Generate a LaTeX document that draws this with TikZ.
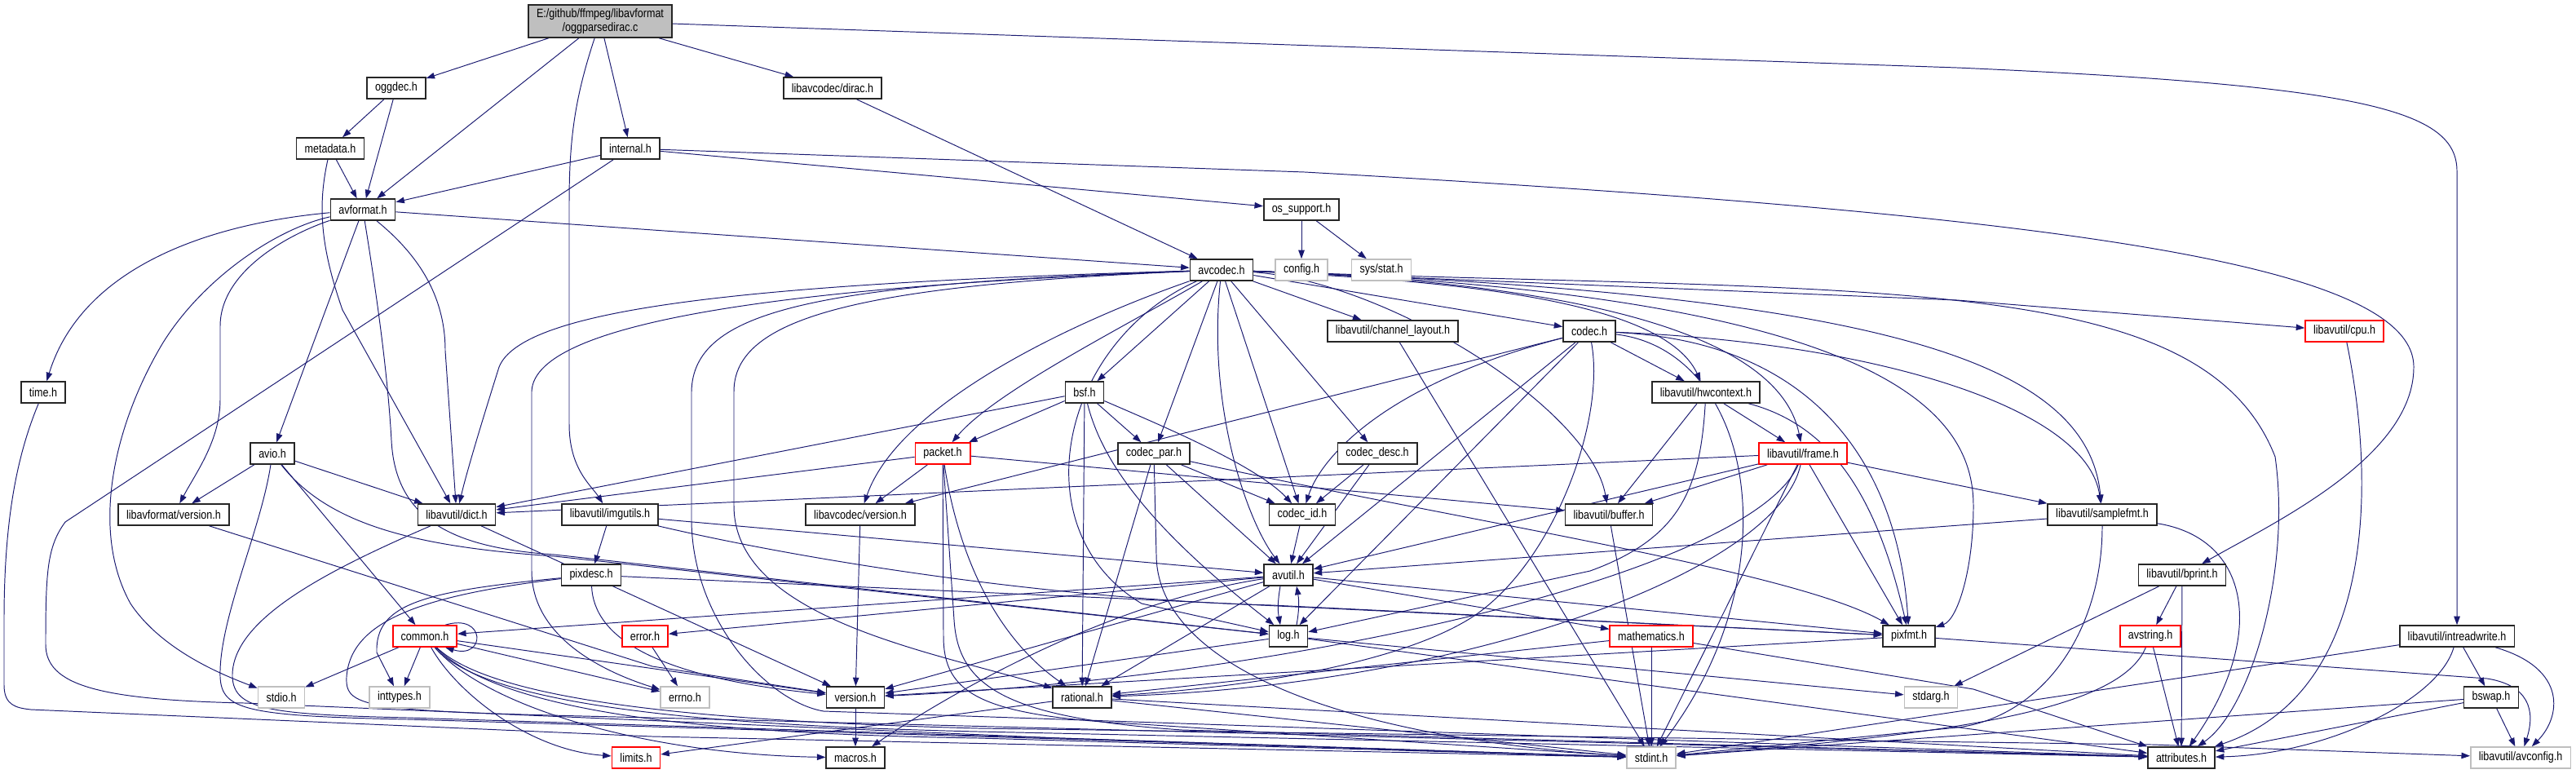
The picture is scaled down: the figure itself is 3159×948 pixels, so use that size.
\documentclass[tikz,border=0pt]{standalone}
\usepackage{fontspec}
\usepackage{tikz}
\usetikzlibrary{arrows.meta,backgrounds}
\newfontfamily\dxfont{Liberation Sans}[FakeStretch=0.84]
\definecolor{edgeblue}{HTML}{191970}
\definecolor{boxgray}{HTML}{BFBFBF}

\begin{document}
\begin{tikzpicture}[x=0.02cm, y=-0.02cm,
  hdr/.style={draw=black!85, line width=0.9pt, fill=white,
              inner xsep=0.2cm, inner ysep=0pt, minimum height=0.52cm,
              font=\dxfont\fontsize{8.5}{10}\selectfont},
  redhdr/.style={hdr, draw=red},
  syshdr/.style={hdr, draw=boxgray},
  srcfile/.style={hdr, fill=boxgray, minimum height=0.8cm, align=center},
  inc/.style={draw=edgeblue, line width=0.55pt,
              -{Triangle[length=0.21cm,width=0.15cm]}},
  ]
  \useasboundingbox (0,0) rectangle (3159,948);

  \node[srcfile] (root) at (736,26) {E:/github/ffmpeg/libavformat\\/oggparsedirac.c};
  \node[hdr] (oggdec) at (486,108) {oggdec.h};
  \node[hdr] (dirac) at (1021,108) {libavcodec/dirac.h};
  \node[hdr] (metadata) at (405,182) {metadata.h};
  \node[hdr] (internal) at (773,182) {internal.h};
  \node[hdr] (avformat) at (445,257) {avformat.h};
  \node[hdr] (ossupp) at (1596,257) {os\_support.h};
  \node[hdr] (avcodec) at (1498,331) {avcodec.h};
  \node[syshdr] (config) at (1596,331) {config.h};
  \node[syshdr] (sysstat) at (1694,331) {sys/stat.h};
  \node[hdr] (chlayout) at (1708,406) {libavutil/channel\_layout.h};
  \node[hdr] (codec) at (1949,406) {codec.h};
  \node[redhdr] (cpu) at (2875,406) {libavutil/cpu.h};
  \node[hdr] (timeh) at (53,481) {time.h};
  \node[hdr] (bsf) at (1330,481) {bsf.h};
  \node[hdr] (hwctx) at (2092,481) {libavutil/hwcontext.h};
  \node[hdr] (avio) at (334,556) {avio.h};
  \node[redhdr] (packet) at (1156,556) {packet.h};
  \node[hdr] (codecpar) at (1415,556) {codec\_par.h};
  \node[hdr] (codecdesc) at (1689,556) {codec\_desc.h};
  \node[redhdr] (frame) at (2211,556) {libavutil/frame.h};
  \node[hdr] (lavfver) at (213,631) {libavformat/version.h};
  \node[hdr] (dict) at (560,631) {libavutil/dict.h};
  \node[hdr] (imgutils) at (748,631) {libavutil/imgutils.h};
  \node[hdr] (lavcver) at (1055,631) {libavcodec/version.h};
  \node[hdr] (codecid) at (1597,631) {codec\_id.h};
  \node[hdr] (buffer) at (1973,631) {libavutil/buffer.h};
  \node[hdr] (samplefmt) at (2578,631) {libavutil/samplefmt.h};
  \node[hdr] (pixdesc) at (725,705) {pixdesc.h};
  \node[hdr] (avutil) at (1580,705) {avutil.h};
  \node[hdr] (bprint) at (2676,705) {libavutil/bprint.h};
  \node[redhdr] (common) at (521,780) {common.h};
  \node[redhdr] (error) at (791,780) {error.h};
  \node[hdr] (logh) at (1580,780) {log.h};
  \node[redhdr] (mathem) at (2025,780) {mathematics.h};
  \node[hdr] (pixfmt) at (2341,780) {pixfmt.h};
  \node[redhdr] (avstring) at (2637,780) {avstring.h};
  \node[hdr] (intrw) at (3013,780) {libavutil/intreadwrite.h};
  \node[syshdr] (stdio) at (345,855) {stdio.h};
  \node[syshdr] (inttypes) at (490,855) {inttypes.h};
  \node[syshdr] (errno) at (840,855) {errno.h};
  \node[hdr] (version) at (1049,855) {version.h};
  \node[hdr] (rational) at (1327,855) {rational.h};
  \node[syshdr] (stdarg) at (2368,855) {stdarg.h};
  \node[hdr] (bswap) at (3055,855) {bswap.h};
  \node[redhdr] (limits) at (780,929) {limits.h};
  \node[hdr] (macros) at (1049,929) {macros.h};
  \node[syshdr] (stdint) at (2025,929) {stdint.h};
  \node[hdr] (attrib) at (2675,929) {attributes.h};
  \node[syshdr] (avconfig) at (3091,929) {libavutil/avconfig.h};

  \begin{scope}[on background layer]
  % source file
  \draw[inc] (root) -- (oggdec);
  \draw[inc] (root) -- (avformat);
  \draw[inc] (root) .. controls (705,120) and (698,170) .. (698,250) -- (698,520) .. controls (698,575) and (725,595) .. (imgutils);
  \draw[inc] (root) -- (internal);
  \draw[inc] (root) -- (dirac);
  \draw[inc] (root) -- (2400,83) .. controls (2900,105) and (3013,135) .. (3013,210) -- (intrw);
  % libavformat
  \draw[inc] (oggdec) -- (metadata);
  \draw[inc] (oggdec) -- (avformat);
  \draw[inc] (metadata) -- (avformat);
  \draw[inc] (metadata) .. controls (390,250) and (392,300) .. (420,380) -- (dict);
  \draw[inc] (internal) -- (avformat);
  \draw[inc] (internal) -- (ossupp);
  \draw[inc] (internal) -- (1600,211) .. controls (2500,262) and (2960,320) .. (2960,450) .. controls (2960,560) and (2790,640) .. (bprint);
  \draw[inc] (internal) -- (80,640) .. controls (58,670) and (56,700) .. (56,790) .. controls (56,840) and (120,858) .. (300,862) -- (1300,905) -- (stdint);
  \draw[inc] (avformat) .. controls (250,275) and (100,330) .. (timeh);
  \draw[inc] (avformat) .. controls (340,280) and (250,340) .. (200,420) .. controls (140,520) and (110,650) .. (160,740) .. controls (200,800) and (280,830) .. (stdio);
  \draw[inc] (avformat) .. controls (360,285) and (270,330) .. (270,400) -- (270,490) .. controls (270,540) and (240,580) .. (lavfver);
  \draw[inc] (avformat) -- (avio);
  \draw[inc] (avformat) .. controls (460,350) and (475,450) .. (480,540) .. controls (485,640) and (560,672) .. (680,680) -- (logh);
  \draw[inc] (avformat) .. controls (510,310) and (546,360) .. (546,430) -- (dict);
  \draw[inc] (avformat) -- (avcodec);
  \draw[inc] (dirac) -- (avcodec);
  \draw[inc] (ossupp) -- (config);
  \draw[inc] (ossupp) -- (sysstat);
  \draw[inc] (timeh) .. controls (20,560) and (5,640) .. (5,760) -- (5,840) .. controls (5,865) and (20,868) .. (38,870) -- (800,903) -- (stdint);
  \draw[inc] (avio) -- (lavfver);
  \draw[inc] (avio) -- (dict);
  \draw[inc] (avio) -- (common);
  \draw[inc] (avio) .. controls (400,640) and (500,670) .. (680,682) -- (logh);
  \draw[inc] (avio) .. controls (320,650) and (268,760) .. (270,830) .. controls (272,870) and (300,878) .. (500,882) -- (1300,906) -- (stdint);
  \draw[inc] (lavfver) -- (800,817) -- (version);
  % libavcodec
  \draw[inc] (avcodec) .. controls (1000,350) and (655,390) .. (652,480) -- (652,700) .. controls (652,790) and (760,830) .. (errno);
  \draw[inc] (avcodec) .. controls (900,348) and (640,380) .. (612,450) .. controls (590,520) and (572,580) .. (dict);
  \draw[inc] (avcodec) .. controls (1000,348) and (850,380) .. (848,480) -- (848,640) .. controls (850,760) and (940,860) .. (1010,872) -- (attrib);
  \draw[inc] (avcodec) .. controls (1050,350) and (900,390) .. (900,480) -- (900,620) .. controls (900,760) and (1150,800) .. (rational);
  \draw[inc] (avcodec) .. controls (1300,400) and (1100,500) .. (lavcver);
  \draw[inc] (avcodec) .. controls (1380,400) and (1220,480) .. (packet);
  \draw[inc] (avcodec) -- (bsf);
  \draw[inc] (avcodec) -- (codecpar);
  \draw[inc] (avcodec) -- (codecid);
  \draw[inc] (avcodec) -- (codecdesc);
  \draw[inc] (avcodec) .. controls (1480,500) and (1530,640) .. (avutil);
  \draw[inc] (avcodec) .. controls (1300,420) and (1250,650) .. (1400,740) -- (logh);
  \draw[inc] (avcodec) -- (chlayout);
  \draw[inc] (avcodec) -- (codec);
  \draw[inc] (avcodec) .. controls (1700,345) and (1950,500) .. (buffer);
  \draw[inc] (avcodec) .. controls (1800,345) and (2040,370) .. (hwctx);
  \draw[inc] (avcodec) .. controls (1900,345) and (2180,400) .. (frame);
  \draw[inc] (avcodec) -- (2400,368) -- (cpu);
  \draw[inc] (avcodec) .. controls (2300,360) and (2560,440) .. (samplefmt);
  \draw[inc] (avcodec) .. controls (2300,360) and (2420,500) .. (2420,620) .. controls (2420,700) and (2400,760) .. (pixfmt);
  \draw[inc] (avcodec) .. controls (2300,360) and (2700,330) .. (2790,560) .. controls (2810,700) and (2760,870) .. (attrib);
  \draw[inc] (bsf) -- (packet);
  \draw[inc] (bsf) -- (codecpar);
  \draw[inc] (bsf) .. controls (1420,520) and (1540,570) .. (codecid);
  \draw[inc] (bsf) -- (dict);
  \draw[inc] (bsf) -- (rational);
  \draw[inc] (bsf) .. controls (1350,560) and (1400,640) .. (logh);
  \draw[inc] (packet) -- (lavcver);
  \draw[inc] (packet) -- (dict);
  \draw[inc] (packet) -- (buffer);
  \draw[inc] (packet) .. controls (1175,680) and (1220,780) .. (rational);
  \draw[inc] (packet) -- (1157,780) .. controls (1157,850) and (1200,878) .. (1400,888) -- (stdint);
  \draw[inc] (packet) -- (1170,760) .. controls (1175,840) and (1230,880) .. (1450,895) -- (attrib);
  \draw[inc] (codecpar) -- (codecid);
  \draw[inc] (codecpar) -- (rational);
  \draw[inc] (codecpar) -- (avutil);
  \draw[inc] (codecpar) .. controls (1800,640) and (2200,700) .. (pixfmt);
  \draw[inc] (codecpar) -- (1418,680) .. controls (1418,800) and (1600,900) .. (stdint);
  \draw[inc] (codec) -- (hwctx);
  \draw[inc] (codec) .. controls (1700,470) and (1620,560) .. (codecid);
  \draw[inc] (codec) -- (lavcver);
  \draw[inc] (codec) -- (avutil);
  \draw[inc] (codec) -- (logh);
  \draw[inc] (codec) .. controls (1970,520) and (1900,700) .. (1800,760) .. controls (1700,820) and (1500,845) .. (rational);
  \draw[inc] (codec) .. controls (2150,430) and (2200,700) .. (stdint);
  \draw[inc] (codec) .. controls (2250,420) and (2330,600) .. (pixfmt);
  \draw[inc] (codec) .. controls (2300,420) and (2560,500) .. (samplefmt);
  \draw[inc] (codecdesc) -- (codecid);
  \draw[inc] (codecdesc) -- (avutil);
  \draw[inc] (codecid) -- (avutil);
  % libavutil
  \draw[inc] (chlayout) -- (stdint);
  \draw[inc] (hwctx) -- (frame);
  \draw[inc] (hwctx) -- (buffer);
  \draw[inc] (hwctx) .. controls (2085,600) and (2060,660) .. (1950,700) -- (logh);
  \draw[inc] (hwctx) .. controls (2240,520) and (2300,600) .. (pixfmt);
  \draw[inc] (frame) -- (buffer);
  \draw[inc] (frame) -- (dict);
  \draw[inc] (frame) -- (samplefmt);
  \draw[inc] (frame) -- (avutil);
  \draw[inc] (frame) -- (stdint);
  \draw[inc] (frame) -- (pixfmt);
  \draw[inc] (frame) .. controls (2180,700) and (1800,840) .. (rational);
  \draw[inc] (frame) .. controls (2150,700) and (1600,830) .. (version);
  \draw[inc] (buffer) -- (stdint);
  \draw[inc] (samplefmt) -- (avutil);
  \draw[inc] (samplefmt) .. controls (2578,780) and (2500,880) .. (2400,892) -- (stdint);
  \draw[inc] (samplefmt) .. controls (2760,660) and (2780,780) .. (attrib);
  \draw[inc] (cpu) .. controls (2915,600) and (2910,850) .. (attrib);
  \draw[inc] (imgutils) -- (pixdesc);
  \draw[inc] (imgutils) -- (avutil);
  \draw[inc] (imgutils) .. controls (1000,690) and (1300,735) .. (1560,742) -- (pixfmt);
  \draw[inc] (pixdesc) -- (1400,735) -- (pixfmt);
  \draw[inc] (pixdesc) .. controls (520,725) and (460,740) .. (462,800) -- (inttypes);
  \draw[inc] (pixdesc) .. controls (520,730) and (430,760) .. (425,830) .. controls (423,870) and (450,872) .. (800,880) -- (attrib);
  \draw[inc] (pixdesc) .. controls (728,780) and (800,830) .. (version);
  \draw[inc] ([xshift=-0.2cm]avutil.south) to[bend right=10] ([xshift=-0.2cm]logh.north);
  \draw[inc] ([xshift=0.2cm]logh.north) to[bend right=10] ([xshift=0.2cm]avutil.south);
  \draw[inc] (avutil) -- (common);
  \draw[inc] (avutil) -- (error);
  \draw[inc] (avutil) -- (mathem);
  \draw[inc] (avutil) -- (pixfmt);
  \draw[inc] (avutil) -- (rational);
  \draw[inc] (avutil) -- (version);
  \draw[inc] (avutil) .. controls (1350,740) and (1150,860) .. (macros);
  \draw[inc] (bprint) -- (avstring);
  \draw[inc] (bprint) -- (attrib);
  \draw[inc] (bprint) -- (stdarg);
  \draw[inc] ([xshift=-0.3cm]common.north east) .. controls +(1cm,0.3cm) and +(1cm,-0.3cm) .. ([xshift=-0.3cm]common.south east);
  \draw[inc] (common) -- (stdio);
  \draw[inc] (common) -- (inttypes);
  \draw[inc] (common) -- (errno);
  \draw[inc] (common) .. controls (560,850) and (650,920) .. (limits);
  \draw[inc] (common) .. controls (600,870) and (800,925) .. (macros);
  \draw[inc] (common) -- (version);
  \draw[inc] (common) .. controls (620,880) and (900,900) .. (1200,905) -- (stdint);
  \draw[inc] (common) .. controls (600,870) and (900,890) .. (1200,897) -- (attrib);
  \draw[inc] (common) .. controls (610,865) and (900,885) .. (1200,893) -- (2640,913) -- (avconfig);
  \draw[inc] (error) -- (errno);
  \draw[inc] (logh) -- (stdarg);
  \draw[inc] (logh) -- (version);
  \draw[inc] (logh) -- (attrib);
  \draw[inc] (mathem) -- (stdint);
  \draw[inc] (mathem) -- (2420,845) -- (attrib);
  \draw[inc] (mathem) -- (rational);
  \draw[inc] (pixfmt) -- (version);
  \draw[inc] (pixfmt) -- (3050,832) .. controls (3100,840) and (3110,870) .. (avconfig);
  \draw[inc] (avstring) -- (attrib);
  \draw[inc] (avstring) .. controls (2600,870) and (2400,900) .. (stdint);
  \draw[inc] (intrw) -- (bswap);
  \draw[inc] (intrw) .. controls (3150,820) and (3140,880) .. (avconfig);
  \draw[inc] (intrw) .. controls (2990,860) and (2850,925) .. (attrib);
  \draw[inc] (intrw) -- (stdint);
  \draw[inc] (bswap) -- (avconfig);
  \draw[inc] (bswap) -- (attrib);
  \draw[inc] (bswap) -- (stdint);
  \draw[inc] (rational) -- (limits);
  \draw[inc] (rational) -- (stdint);
  \draw[inc] (rational) -- (attrib);
  \draw[inc] (version) -- (macros);
  \draw[inc] (lavcver) -- (version);
  \draw[inc] (dict) -- (version);
  \draw[inc] (dict) .. controls (400,700) and (283,760) .. (285,830) .. controls (287,870) and (330,876) .. (500,880) -- (1300,905) -- (stdint);
  \end{scope}
\end{tikzpicture}
\end{document}
